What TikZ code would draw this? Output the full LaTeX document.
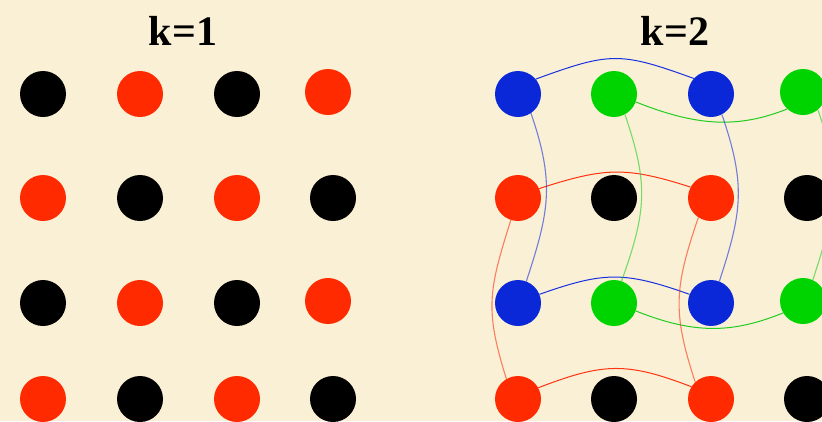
\documentclass[tikz,border=0pt]{standalone}
\usepackage{fontspec}
\setmainfont{Liberation Serif}
\pgfdeclarelayer{bg}
\pgfdeclarelayer{background}
\pgfsetlayers{bg,background,main}
\definecolor{paper}{HTML}{F9F0D5}
\definecolor{dred}{HTML}{FF2A00}
\definecolor{dblue}{HTML}{0A28D8}
\definecolor{dgreen}{HTML}{00D400}
\definecolor{lred}{HTML}{FF3311}
\definecolor{lblue}{HTML}{1A30E0}
\definecolor{lgreen}{HTML}{22CC22}
\tikzset{
  dot/.style={circle, minimum size=46pt, inner sep=0pt, draw=none},
  rd/.style={dot, fill=dred},
  bk/.style={dot, fill=black},
  bl/.style={dot, fill=dblue},
  gr/.style={dot, fill=dgreen},
  title/.style={font=\fontsize{42}{44}\selectfont\bfseries, inner sep=0pt, anchor=base},
  hred/.style={draw=lred, line width=1pt},
  hblue/.style={draw=lblue, line width=1pt},
  hgreen/.style={draw=lgreen, line width=1pt},
  vred/.style={draw=lred, draw opacity=0.6, line width=1.1pt},
  vblue/.style={draw=lblue, draw opacity=0.6, line width=1.1pt},
  vgreen/.style={draw=lgreen, draw opacity=0.6, line width=1.1pt},
}
\begin{document}
\begin{tikzpicture}[x=1pt, y=-1pt]
\useasboundingbox (0,0) rectangle (822,421);
\begin{pgfonlayer}{bg}
\fill[paper] (0,0) rectangle (822,421);
\end{pgfonlayer}
\clip (0,0) rectangle (822,421);
% titles
\node[title] (t1) at (183,45) {k=1};
\node[title] (t2) at (675,45) {k=2};
% left grid
\node[bk] (a11) at (43,94) {};
\node[rd] (a12) at (140,94) {};
\node[bk] (a13) at (237,94) {};
\node[rd] (a14) at (328,92) {};
\node[rd] (a21) at (43,198) {};
\node[bk] (a22) at (140,198) {};
\node[rd] (a23) at (237,198) {};
\node[bk] (a24) at (333,198) {};
\node[bk] (a31) at (43,303) {};
\node[rd] (a32) at (140,303) {};
\node[bk] (a33) at (237,303) {};
\node[rd] (a34) at (328,301) {};
\node[rd] (a41) at (43,399) {};
\node[bk] (a42) at (140,399) {};
\node[rd] (a43) at (237,399) {};
\node[bk] (a44) at (333,399) {};
% right grid
\node[bl] (b11) at (518,94) {};
\node[gr] (b12) at (614,94) {};
\node[bl] (b13) at (711,94) {};
\node[gr] (b14) at (803,92) {};
\node[rd] (b21) at (518,198) {};
\node[bk] (b22) at (614,198) {};
\node[rd] (b23) at (711,198) {};
\node[bk] (b24) at (807,198) {};
\node[bl] (b31) at (518,303) {};
\node[gr] (b32) at (614,303) {};
\node[bl] (b33) at (711,303) {};
\node[gr] (b34) at (803,301) {};
\node[rd] (b41) at (518,399) {};
\node[bk] (b42) at (614,399) {};
\node[rd] (b43) at (711,399) {};
\node[bk] (b44) at (807,399) {};
\begin{pgfonlayer}{background}
% horizontal links
\draw[hblue] (b11.40) .. controls +(74,-27) and +(-74,-27) .. (b13.138);
\draw[hgreen] (b12.-20) .. controls +(60,24) and +(-50,20) .. (b14.-133);
\draw[hred] (b21.24) .. controls +(65,-21) and +(-65,-21) .. (b23.152);
\draw[hblue] (b31.22) .. controls +(65,-23) and +(-65,-23) .. (b33.158);
\draw[hgreen] (b32.-20) .. controls +(60,24) and +(-50,20) .. (b34.-149);
\draw[hred] (b41.29) .. controls +(65,-25) and +(-65,-25) .. (b43.148);
% vertical links
\draw[vblue] (b11.-56) .. controls +(24,70) and +(23,-70) .. (b31.69);
\draw[vgreen] (b12.-62) .. controls +(24,70) and +(25,-70) .. (b32.71);
\draw[vblue] (b13.-62) .. controls +(24,70) and +(23,-70) .. (b33.69);
\draw[vgreen] (b14.-50) .. controls +(24,70) and +(23,-70) .. (b34.65);
\draw[vred] (b21.-108) .. controls +(-22,70) and +(-22,-70) .. (b41.120);
\draw[vred] (b23.-123) .. controls +(-24,70) and +(-23,-70) .. (b43.133);
\end{pgfonlayer}
\end{tikzpicture}
\end{document}
